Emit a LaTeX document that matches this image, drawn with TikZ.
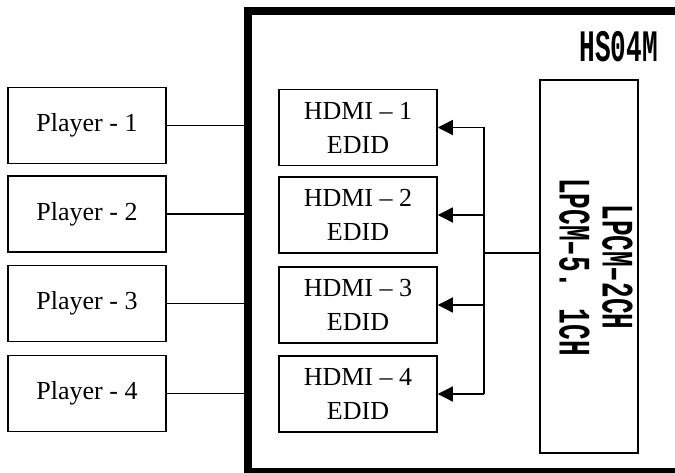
\documentclass[tikz,border=0pt]{standalone}
\usepackage{fontspec}
\setmainfont{Liberation Serif}
\newfontfamily\narrowfont[FakeStretch=0.58]{Liberation Mono}
\usepackage{tikz}
\usetikzlibrary{arrows.meta}

\tikzset{
  box/.style={draw, line width=1.5pt, minimum width=158pt, minimum height=76pt,
    inner sep=0pt, align=center, font=\fontsize{26}{34}\selectfont},
  wire/.style={line width=1.3pt},
  feed/.style={wire, -{Triangle[length=15pt,width=15pt]}},
  chiptext/.style={inner sep=0pt, font=\narrowfont\bfseries\fontsize{45}{43}\selectfont}
}

\begin{document}
\begin{tikzpicture}[x=1pt,y=-1pt]
  \useasboundingbox (0,0) rectangle (675,473);
  \node [draw, line width=8pt, inner sep=0pt, outer sep=0pt, anchor=north west,
    minimum width=460pt, minimum height=461pt] (hs) at (248,11) {};
  \node [chiptext, anchor=east] (title) at (658,47) {HS04M};
  \node [box] (p1) at (87,125.5) {Player - 1};
  \node [box] (p2) at (87,214) {Player - 2};
  \node [box] (p3) at (87,303.5) {Player - 3};
  \node [box] (p4) at (87,393.5) {Player - 4};
  \node [box] (h1) at (358,127.5) {HDMI – 1\\EDID};
  \node [box] (h2) at (358,215) {HDMI – 2\\EDID};
  \node [box] (h3) at (358,305) {HDMI – 3\\EDID};
  \node [box] (h4) at (358,394) {HDMI – 4\\EDID};
  \node [draw, line width=1.5pt, minimum width=98pt, minimum height=373pt] (lpcm) at (589,266.5) {};
  \node [chiptext, rotate=-90, align=center] (modes) at (596,267) {LPCM–2CH\\LPCM–5. 1CH};
  \coordinate (bus) at (484,253);
  % players into the switcher
  \draw [wire] (p1.east) -- (p1.east -| hs.west);
  \draw [wire] (p2.east) -- (p2.east -| hs.west);
  \draw [wire] (p3.east) -- (p3.east -| hs.west);
  \draw [wire] (p4.east) -- (p4.east -| hs.west);
  % edid bus
  \draw [wire] (lpcm.west |- bus) -- (bus);
  \draw [wire] (bus |- h1.east) -- (bus |- h4.east);
  \draw [feed] (bus |- h1.east) -- (h1.east);
  \draw [feed] (bus |- h2.east) -- (h2.east);
  \draw [feed] (bus |- h3.east) -- (h3.east);
  \draw [feed] (bus |- h4.east) -- (h4.east);
\end{tikzpicture}
\end{document}
